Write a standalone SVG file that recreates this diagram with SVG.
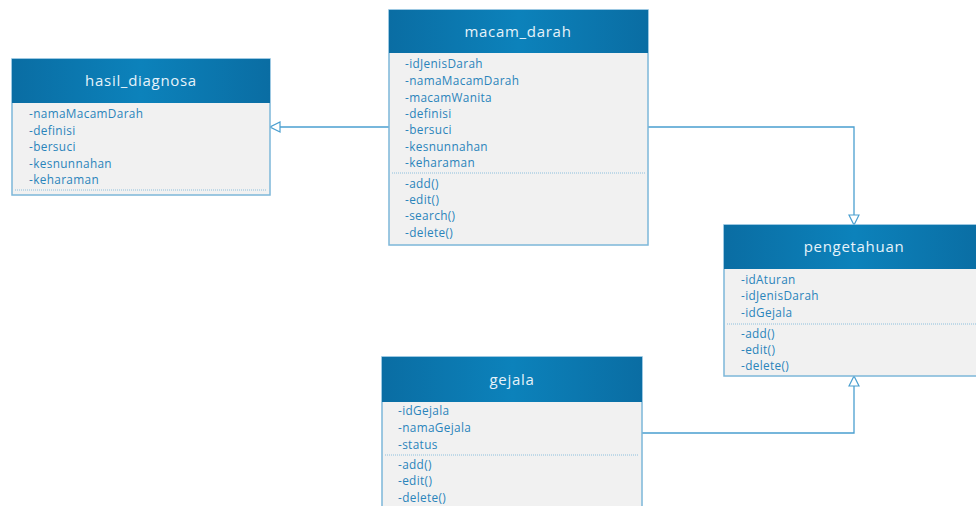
<svg xmlns="http://www.w3.org/2000/svg" width="976" height="506" viewBox="0 0 976 506">
<defs>
<linearGradient id="hg" x1="0" y1="0" x2="1" y2="0">
<stop offset="0" stop-color="#0a6da3"/>
<stop offset="0.5" stop-color="#0c82bb"/>
<stop offset="1" stop-color="#0a6da3"/>
</linearGradient>
<marker id="tri" viewBox="0 0 12 12" refX="11" refY="6" markerWidth="12" markerHeight="12" markerUnits="userSpaceOnUse" orient="auto">
<path d="M1,1 L11,6 L1,11 Z" fill="#ffffff" stroke="#4a9fd0" stroke-width="1.2"/>
</marker>
</defs>
<style>
.body{fill:#f1f1f1;stroke:#7cb7d9;stroke-width:1.5}
.head{fill:url(#hg)}
.title{font-family:"Open Sans","Liberation Sans",sans-serif;font-size:15px;fill:#e6f3fa;text-anchor:middle;letter-spacing:0.7px}
.t{font-family:"Open Sans","Liberation Sans",sans-serif;font-size:11.8px;fill:#2a84bb;letter-spacing:0.35px}
.sep{stroke:#8cbfdd;stroke-width:1;stroke-dasharray:1 1}
.conn{fill:none;stroke:#4a9fd0;stroke-width:1.3}
</style>
<rect width="976" height="506" fill="#ffffff"/>
<g id="connectors">
<path class="conn" d="M389,127 L270,127" marker-end="url(#tri)"/>
<path class="conn" d="M648,127 L854,127 L854,225" marker-end="url(#tri)"/>
<path class="conn" d="M642,433 L854,433 L854,376" marker-end="url(#tri)"/>
</g>
<g id="hasil_diagnosa">
<rect class="body" x="12" y="59" width="258" height="136"/>
<rect class="head" x="12" y="59" width="258" height="44"/>
<text class="title" x="141" y="86">hasil_diagnosa</text>
<text class="t" x="29" y="118">-namaMacamDarah</text>
<text class="t" x="29" y="135">-definisi</text>
<text class="t" x="29" y="151">-bersuci</text>
<text class="t" x="29" y="168">-kesnunnahan</text>
<text class="t" x="29" y="184">-keharaman</text>
<line class="sep" x1="15" y1="190" x2="267" y2="190"/>
</g>
<g id="macam_darah">
<rect class="body" x="389" y="10" width="259" height="235"/>
<rect class="head" x="389" y="10" width="259" height="43"/>
<text class="title" x="518" y="37">macam_darah</text>
<text class="t" x="405" y="68">-idJenisDarah</text>
<text class="t" x="405" y="85">-namaMacamDarah</text>
<text class="t" x="405" y="102">-macamWanita</text>
<text class="t" x="405" y="118">-definisi</text>
<text class="t" x="405" y="134">-bersuci</text>
<text class="t" x="405" y="151">-kesnunnahan</text>
<text class="t" x="405" y="167">-keharaman</text>
<line class="sep" x1="392" y1="173" x2="645" y2="173"/>
<text class="t" x="405" y="188">-add()</text>
<text class="t" x="405" y="204">-edit()</text>
<text class="t" x="405" y="220">-search()</text>
<text class="t" x="405" y="237">-delete()</text>
</g>
<g id="pengetahuan">
<rect class="body" x="724" y="225" width="260" height="151"/>
<rect class="head" x="724" y="225" width="260" height="44"/>
<text class="title" x="854" y="252">pengetahuan</text>
<text class="t" x="741" y="284">-idAturan</text>
<text class="t" x="741" y="300">-idJenisDarah</text>
<text class="t" x="741" y="317">-idGejala</text>
<line class="sep" x1="727" y1="324" x2="976" y2="324"/>
<text class="t" x="741" y="338">-add()</text>
<text class="t" x="741" y="354">-edit()</text>
<text class="t" x="741" y="370">-delete()</text>
</g>
<g id="gejala">
<rect class="body" x="382" y="357" width="260" height="160"/>
<rect class="head" x="382" y="357" width="260" height="45"/>
<text class="title" x="512" y="385">gejala</text>
<text class="t" x="398" y="415">-idGejala</text>
<text class="t" x="398" y="432">-namaGejala</text>
<text class="t" x="398" y="449">-status</text>
<line class="sep" x1="385" y1="455" x2="639" y2="455"/>
<text class="t" x="398" y="469">-add()</text>
<text class="t" x="398" y="485">-edit()</text>
<text class="t" x="398" y="502">-delete()</text>
</g>
</svg>
